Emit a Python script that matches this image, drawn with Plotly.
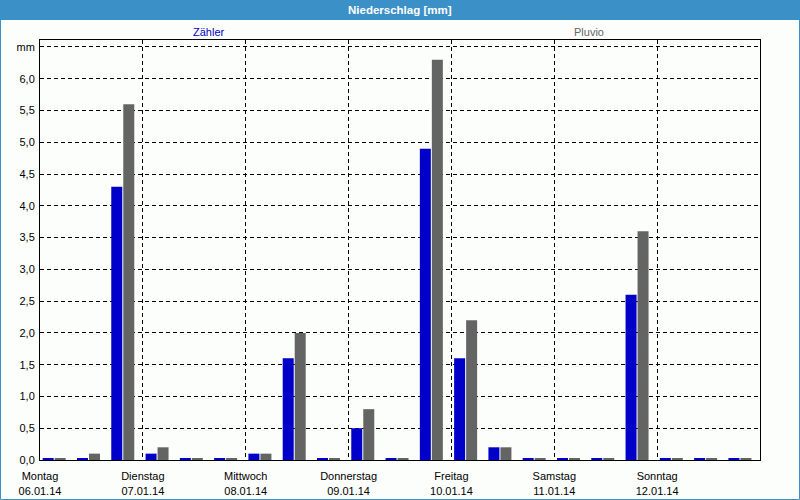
import plotly.graph_objects as go

# ---- data ----
slot_hours = [0, 8, 16, 24, 32, 40, 48, 56, 64, 72, 80, 88, 96, 104, 112, 120, 128, 136, 144, 152, 160]
zaehler = [0.02, 0.02, 4.3, 0.1, 0.02, 0.02, 0.1, 1.6, 0.02, 0.5, 0.02, 4.9, 1.6, 0.2, 0.02, 0.02, 0.02, 2.6, 0.02, 0.02, 0.02]
pluvio = [0.02, 0.1, 5.6, 0.2, 0.02, 0.02, 0.1, 2.0, 0.02, 0.8, 0.02, 6.3, 2.2, 0.2, 0.02, 0.02, 0.02, 3.6, 0.02, 0.02, 0.02]
day_hours = [0, 24, 48, 72, 96, 120, 144]
day_names = ["Montag", "Dienstag", "Mittwoch", "Donnerstag", "Freitag", "Samstag", "Sonntag"]
day_dates = ["06.01.14", "07.01.14", "08.01.14", "09.01.14", "10.01.14", "11.01.14", "12.01.14"]
y_ticks = [0, 0.5, 1.0, 1.5, 2.0, 2.5, 3.0, 3.5, 4.0, 4.5, 5.0, 5.5, 6.0, 6.5]
y_labels = ["0,0", "0,5", "1,0", "1,5", "2,0", "2,5", "3,0", "3,5", "4,0", "4,5", "5,0", "5,5", "6,0", "mm"]

BLUE = "#0000c8"
GRAY = "#646464"
FRAME = "#3c90c8"
BG = "#fcfefc"
FONT = "Liberation Sans"

W, H = 800, 500
L, R, T, B = 40, 40, 40, 40
PW, PH = W - L - R, H - T - B


def px_x(px):
    return (px - L) / PW


def px_y(py):
    return (H - B - py) / PH


fig = go.Figure()
fig.add_trace(go.Bar(x=slot_hours, y=zaehler, offset=0.63, width=2.567,
                     marker=dict(color=BLUE, line=dict(width=0)), name="Zähler"))
fig.add_trace(go.Bar(x=slot_hours, y=pluvio, offset=3.43, width=2.567,
                     marker=dict(color=GRAY, line=dict(width=0)), name="Pluvio"))

ticktext = [f"{n}<br>{d}" for n, d in zip(day_names, day_dates)]

fig.update_layout(
    width=W, height=H,
    margin=dict(l=L, r=R, t=T, b=B, pad=0, autoexpand=False),
    paper_bgcolor=BG, plot_bgcolor=BG,
    showlegend=False,
    barmode="overlay",
    font=dict(family=FONT, size=11, color="black"),
    xaxis=dict(range=[0, 168], tickvals=day_hours, ticktext=ticktext,
               showgrid=True, gridcolor="black", griddash="4px,3px", gridwidth=1,
               showline=True, linecolor="black", linewidth=1, mirror=True,
               zeroline=False, ticks="", ticklabelstandoff=6, automargin=False,
               tickfont=dict(family=FONT, size=11, color="black")),
    yaxis=dict(range=[0, 6.61], tickvals=y_ticks, ticktext=y_labels,
               showgrid=True, gridcolor="black", griddash="4px,3px", gridwidth=1,
               showline=True, linecolor="black", linewidth=1, mirror=True,
               zeroline=False, ticks="", ticklabelstandoff=2, automargin=False,
               tickfont=dict(family=FONT, size=11, color="black")),
    shapes=[
        dict(type="rect", xref="paper", yref="paper",
             x0=px_x(0), x1=px_x(800), y0=px_y(20), y1=px_y(0),
             fillcolor=FRAME, line=dict(width=0), layer="above"),
        dict(type="rect", xref="paper", yref="paper",
             x0=px_x(0.5), x1=px_x(799.5), y0=px_y(499.5), y1=px_y(0),
             fillcolor="rgba(0,0,0,0)", line=dict(color=FRAME, width=1), layer="above"),
    ],
    annotations=[
        dict(text="<b>Niederschlag [mm]</b>", xref="paper", yref="paper",
             x=0.5, y=px_y(10), xanchor="center", yanchor="middle", showarrow=False,
             font=dict(family=FONT, size=11.5, color="white")),
        dict(text="Zähler", xref="paper", yref="paper",
             x=px_x(209), y=px_y(32), xanchor="center", yanchor="middle", showarrow=False,
             font=dict(family=FONT, size=11, color=BLUE)),
        dict(text="Pluvio", xref="paper", yref="paper",
             x=px_x(589), y=px_y(32), xanchor="center", yanchor="middle", showarrow=False,
             font=dict(family=FONT, size=11, color=GRAY)),
    ],
)

fig.write_html("out.html")
